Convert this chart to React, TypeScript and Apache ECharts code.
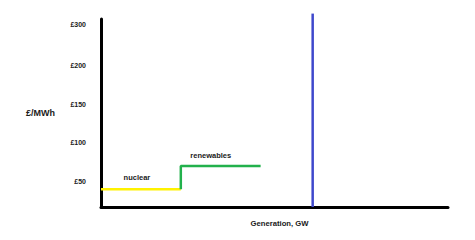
import React, { useEffect, useRef } from "react";
import * as echarts from "echarts";

// Supply curve (x = generation GW, y = £/MWh)
const nuclearCapacity = [0, 23];
const nuclearPrice = 40;
const renewablesCapacity = [23, 46];
const renewablesPrice = 70;
const demandGW = 61;
const demandTop = 267;

const yTickValues = [50, 100, 150, 200, 253];
const yTickLabels = ["£50", "£100", "£150", "£200", "£300"];

const FONT = "'Liberation Sans', Arial, sans-serif";
const TEXT = "#1a1a1a";

export default function App() {
  const ref = useRef<HTMLDivElement>(null);
  useEffect(() => {
    if (!ref.current) return;
    const chart = echarts.init(ref.current, null, { renderer: "svg" });
    const labelStyle = { color: TEXT, fontFamily: FONT, fontSize: 7, fontWeight: "bold" as const };
    const mpLabel = (text: string, distance: number, dx: number) => ({
      show: true,
      formatter: text,
      position: "top",
      distance,
      offset: [dx, 0],
      color: TEXT,
      textBorderWidth: 0,
      textBorderColor: "transparent",
      textShadowBlur: 0,
      fontFamily: FONT,
      fontSize: 7.5,
      fontWeight: "bold",
    });
    chart.setOption({
      animation: false,
      backgroundColor: "#ffffff",
      grid: { left: 101, right: 27, top: 19, bottom: 33, containLabel: false },
      xAxis: {
        type: "value",
        min: 0,
        max: 100,
        name: "Generation, GW",
        nameLocation: "middle",
        nameGap: 12,
        nameTextStyle: { ...labelStyle, fontSize: 7.7, padding: [0, 0, 0, 10] },
        axisLine: { show: true, onZero: false, lineStyle: { color: "#000", width: 3 } },
        axisTick: { show: false },
        axisLabel: { show: false },
        splitLine: { show: false },
      },
      yAxis: {
        type: "value",
        min: 17,
        max: 260,
        name: "£/MWh",
        nameLocation: "middle",
        nameRotate: 0,
        nameGap: 46,
        nameTextStyle: { ...labelStyle, fontSize: 9, padding: [0, 0, 48, 0] },
        axisLine: { show: true, onZero: false, lineStyle: { color: "#000", width: 3 } },
        axisTick: { show: false },
        splitLine: { show: false },
        axisLabel: {
          ...labelStyle,
          margin: 15,
          customValues: yTickValues,
          formatter: (v: number) => {
            const i = yTickValues.indexOf(v);
            return i >= 0 ? yTickLabels[i] : "";
          },
        },
      },
      series: [
        {
          name: "nuclear",
          type: "line",
          symbol: "none",
          lineStyle: { color: "#FFF200", width: 2.5 },
          data: nuclearCapacity.map((x) => [x, nuclearPrice]),
          markPoint: {
            symbol: "circle",
            symbolSize: 0,
            itemStyle: { color: TEXT, borderWidth: 0 },
            label: { color: TEXT },
            data: [
              {
                coord: [(nuclearCapacity[0] + nuclearCapacity[1]) / 2, nuclearPrice],
                label: mpLabel("nuclear", 8, -4),
              },
            ],
          },
        },
        {
          name: "renewables",
          type: "line",
          symbol: "none",
          lineStyle: { color: "#22B14C", width: 2.5 },
          data: [
            [renewablesCapacity[0], nuclearPrice],
            [renewablesCapacity[0], renewablesPrice],
            [renewablesCapacity[1], renewablesPrice],
          ],
          markPoint: {
            symbol: "circle",
            symbolSize: 0,
            itemStyle: { color: TEXT, borderWidth: 0 },
            label: { color: TEXT },
            data: [
              {
                coord: [(renewablesCapacity[0] + renewablesCapacity[1]) / 2, renewablesPrice],
                label: mpLabel("renewables", 6, -10),
              },
            ],
          },
        },
        {
          name: "demand",
          type: "line",
          symbol: "none",
          clip: false,
          lineStyle: { color: "#3F48CC", width: 2.5 },
          data: [
            [demandGW, 17],
            [demandGW, demandTop],
          ],
        },
      ],
    });
    return () => chart.dispose();
  }, []);
  return (
    <div
      ref={ref}
      style={{ position: "absolute", left: 0, top: 0, width: 475, height: 240, background: "#fff" }}
    />
  );
}
